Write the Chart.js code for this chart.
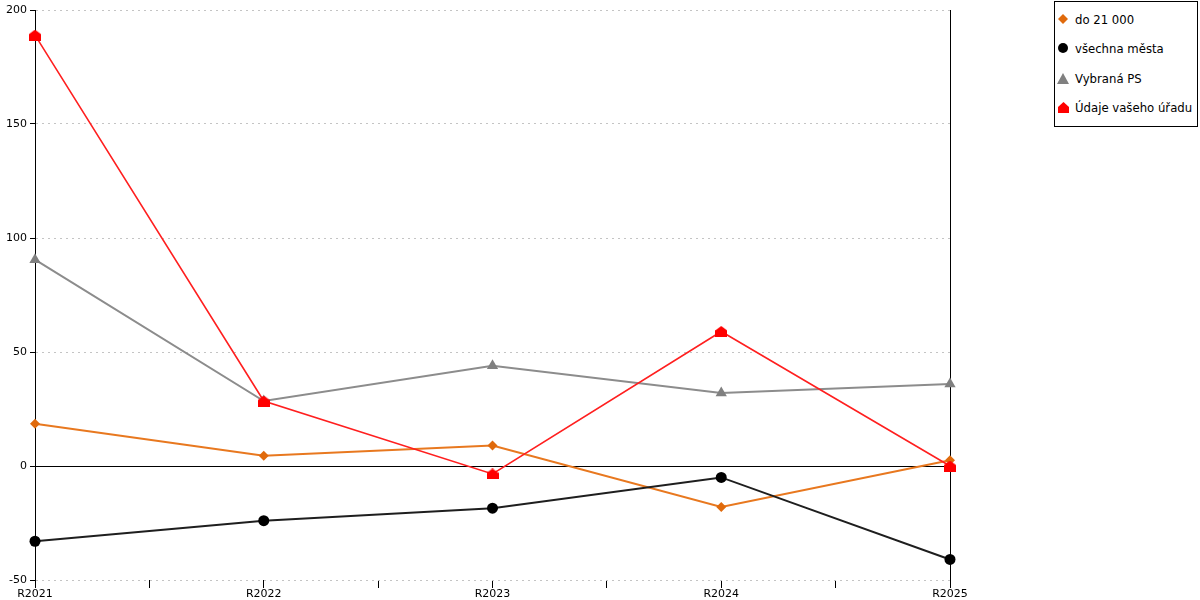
<!DOCTYPE html>
<html>
<head>
<meta charset="utf-8">
<script src="https://cdn.jsdelivr.net/npm/chart.js@4"></script>
<style>
  body { margin: 0; background: #fff; }
  #wrap { position: relative; width: 1200px; height: 600px; }
  #legend {
    position: absolute; left: 1054px; top: 1px; width: 142px; height: 124px;
    border: 1px solid #000; background: #fff;
    font: 11.7px "DejaVu Sans", sans-serif; color: #000;
  }
  #legend .item { position: absolute; left: 3px; height: 14px; line-height: 14px; white-space: nowrap; }
  #legend svg { position: absolute; left: 0; top: 1px; }
  #legend span { position: absolute; left: 17px; top: 0; }
</style>
</head>
<body>
<div id="wrap">
  <canvas id="lineChart" width="1200" height="600"></canvas>
  <div id="legend"></div>
</div>
<script>
const categories = ["R2021", "R2022", "R2023", "R2024", "R2025"];
const seriesNames = ["do 21 000", "všechna města", "Vybraná PS", "Údaje vašeho úřadu"];
const do21000 = [18.5, 4.5, 9, -18, 2.5];
const vsechnaMesta = [-33, -24, -18.5, -5, -41];
const vybranaPS = [90.5, 28.5, 44, 32, 36];
const udajeUradu = [189, 28.5, -3.5, 59, 0];
const yTicks = [-50, 0, 50, 100, 150, 200];

// red "house" marker
const house = document.createElement("canvas");
house.width = 12;
house.height = 11;
const hctx = house.getContext("2d");
hctx.fillStyle = "#ff0000";
hctx.beginPath();
hctx.moveTo(0, 4.5);
hctx.lineTo(6, 0);
hctx.lineTo(12, 4.5);
hctx.lineTo(12, 11);
hctx.lineTo(0, 11);
hctx.closePath();
hctx.fill();

const toPoints = (values) => values.map((v, i) => ({ x: i, y: v }));

const data = {
  datasets: [
    {
      label: seriesNames[0],
      data: toPoints(do21000),
      borderColor: "#e8781f",
      backgroundColor: "#e06a0c",
      borderWidth: 2,
      pointStyle: "rectRot",
      pointRadius: 5,
      pointBorderWidth: 0,
      clip: false,
      order: 3
    },
    {
      label: seriesNames[1],
      data: toPoints(vsechnaMesta),
      borderColor: "#1e1e1e",
      backgroundColor: "#000000",
      borderWidth: 2,
      pointStyle: "circle",
      pointRadius: 5.5,
      pointBorderWidth: 0,
      clip: false,
      order: 2
    },
    {
      label: seriesNames[2],
      data: toPoints(vybranaPS),
      borderColor: "#8c8c8c",
      backgroundColor: "#808080",
      borderWidth: 2,
      pointStyle: "triangle",
      pointRadius: 6.5,
      pointBorderWidth: 0,
      clip: false,
      order: 1
    },
    {
      label: seriesNames[3],
      data: toPoints(udajeUradu),
      borderColor: "#ff1f1f",
      backgroundColor: "#ff0000",
      borderWidth: 1.6,
      pointStyle: house,
      pointRadius: 6,
      pointBorderWidth: 0,
      clip: false,
      order: 0
    }
  ]
};

const font = { family: "DejaVu Sans", size: 11 };

const config = {
  type: "line",
  data: data,
  options: {
    responsive: false,
    animation: false,
    devicePixelRatio: 1,
    layout: { padding: 0 },
    plugins: {
      legend: { display: false },
      tooltip: { enabled: false }
    },
    elements: { line: { tension: 0 } },
    scales: {
      x: {
        type: "linear",
        min: 0,
        max: categories.length - 1,
        ticks: {
          stepSize: 0.5,
          autoSkip: false,
          maxRotation: 0,
          padding: 0,
          color: "#000",
          font: font,
          callback: (v) => (Number.isInteger(v) ? categories[v] : "")
        },
        grid: {
          color: (ctx) =>
            ctx.tick && (ctx.tick.value === 0 || ctx.tick.value === categories.length - 1)
              ? "#000"
              : "rgba(0,0,0,0)",
          tickColor: "#000",
          tickLength: 8,
          lineWidth: 1
        },
        border: { display: false },
        afterFit: (scale) => {
          scale.height = 20;
          scale.paddingRight = 250;
        }
      },
      y: {
        min: yTicks[0],
        max: yTicks[yTicks.length - 1],
        afterBuildTicks: (scale) => {
          scale.ticks = yTicks.map((v) => ({ value: v }));
        },
        ticks: {
          padding: 3,
          color: "#000",
          font: font
        },
        grid: {
          color: (ctx) => (ctx.tick && ctx.tick.value === 0 ? "#000" : "#c4c4c4"),
          tickColor: "#000",
          tickLength: 5,
          lineWidth: 1
        },
        border: {
          display: true,
          color: "#000",
          width: 1,
          dash: (ctx) => (ctx.tick && ctx.tick.value === 0 ? [] : [2, 4])
        },
        afterFit: (scale) => {
          scale.width = 35;
          scale.paddingTop = 10;
        }
      }
    }
  }
};

const chart = new Chart(document.getElementById("lineChart"), config);

// html legend built from the datasets
const markerSvg = {
  rectRot: (c) => `<polygon points="5,0 10,5 5,10 0,5" fill="${c}"/>`,
  circle: (c) => `<circle cx="5" cy="5" r="5" fill="${c}"/>`,
  triangle: (c) => `<polygon points="5,0 11,11 -1,11" fill="${c}"/>`,
  house: (c) => `<polygon points="0,5 5.5,0 11,5 11,11 0,11" fill="${c}"/>`
};
const rowTops = [11, 40, 70, 99];
const legendEl = document.getElementById("legend");
chart.data.datasets.forEach((ds, i) => {
  const style = typeof ds.pointStyle === "string" ? ds.pointStyle : "house";
  const item = document.createElement("div");
  item.className = "item";
  item.style.top = rowTops[i] + "px";
  item.innerHTML =
    `<svg width="12" height="12" viewBox="0 0 12 12" overflow="visible">${markerSvg[style](ds.backgroundColor)}</svg>` +
    `<span>${ds.label}</span>`;
  legendEl.appendChild(item);
});
</script>
</body>
</html>
